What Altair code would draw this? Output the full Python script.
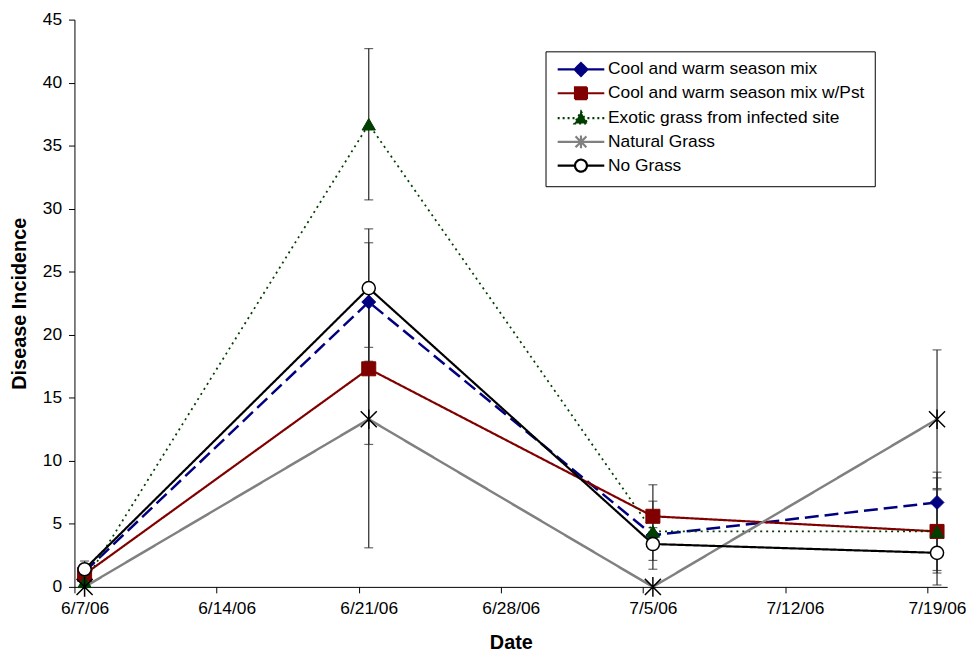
import altair as alt
import pandas as pd

# ---------------- data ----------------
dates = ["2006-06-07", "2006-06-21", "2006-07-05", "2006-07-19"]
series = [
    "Cool and warm season  mix",
    "Cool and warm season mix w/Pst",
    "Exotic grass from infected site",
    "Natural Grass",
    "No Grass",
]
cool = [1.2, 22.6, 4.1, 6.7]
cool_err = [0.5, 4.7, 2.7, 2.4]
pst = [1.0, 17.3, 5.6, 4.4]
pst_err = [0.5, 6.0, 2.5, 4.25]
exotic = [0.4, 36.7, 4.4, 4.4]
exotic_err = [0.3, 6.0, 0.0, 3.3]
natural = [0.0, 13.3, 0.0, 13.3]
natural_err = [0.0, 10.2, 0.0, 5.5]
nograss = [1.4, 23.7, 3.4, 2.7]
nograss_err = [0.65, 4.7, 1.3, 1.4]

y_ticks = [0, 5, 10, 15, 20, 25, 30, 35, 40, 45]
x_tick_days = [(6, 7), (6, 14), (6, 21), (6, 28), (7, 5), (7, 12), (7, 19)]

values = [cool, pst, exotic, natural, nograss]
errors = [cool_err, pst_err, exotic_err, natural_err, nograss_err]

rows = []
for s, vals, errs in zip(series, values, errors):
    for d, v, e in zip(dates, vals, errs):
        rows.append(dict(series=s, date=d, value=v, err=e, lo=max(v - e, 0), hi=v + e))
df = pd.DataFrame(rows)

# ---------------- styles ----------------
FONT = "Liberation Sans"
line_color = ["#000080", "#800000", "#003F00", "#808080", "#000000"]
line_width = [2.5, 2.2, 1.8, 2.5, 2.2]
line_dash = [[14, 6], [1, 0], [2, 4], [1, 0], [1, 0]]
star_path = "M-0.9,-0.9L0.9,0.9M-0.9,0.9L0.9,-0.9M0,-1.1L0,1.1"
pt_shape = ["diamond", "square", "triangle-up", star_path, "circle"]
pt_size = [196, 200, 180, 324, 175]
pt_fill = ["#000080", "#800000", "#003F00", "transparent", "#FFFFFF"]
pt_stroke = ["#000080", "#800000", "#003F00", "#000000", "#000000"]
pt_sw = [1, 1, 1, 1.5, 1.5]

gap = "M-1.2,0L2.2,0M4.8,0L8.2,0"
leg_paths = [
    gap + "M3.5,-1.3L4.8,0L3.5,1.3L2.2,0Z",
    gap + "M2.3,-1.2L4.7,-1.2L4.7,1.2L2.3,1.2Z",
    gap + "M3.5,-1.3L4.8,1.1L2.2,1.1Z",
    "M-1.2,0L8.2,0M2.4,-1.1L4.6,1.1M2.4,1.1L4.6,-1.1M3.5,-1.3L3.5,1.3",
    gap + "M4.7,0A1.2,1.2 0 1 1 2.3,0A1.2,1.2 0 1 1 4.7,0Z",
]
leg_fill = ["#000080", "#800000", "#003F00", "transparent", "#FFFFFF"]
leg_stroke = ["#000080", "#800000", "#003F00", "#808080", "#000000"]
leg_dash = [[1, 0], [1, 0], [2, 3], [1, 0], [1, 0]]

# ---------------- scales / axes ----------------
x_scale = alt.Scale(
    type="utc",
    domain=[
        alt.DateTime(year=2006, month=6, date=6, hours=12, utc=True),
        alt.DateTime(year=2006, month=7, date=19, hours=12, utc=True),
    ],
)
x_axis = alt.Axis(
    values=[alt.DateTime(year=2006, month=m, date=d, utc=True) for m, d in x_tick_days],
    labelExpr="utcFormat(datum.value, '%-m/%-d/%y')",
    title="Date",
    grid=False,
    tickOffset=-10,
    labelOffset=10,
    tickSize=6,
    labelPadding=7,
    titlePadding=16,
    labelFontSize=17.5,
    titleFontSize=20,
    titleFontWeight="bold",
    labelFont=FONT,
    titleFont=FONT,
    domainColor="black",
    tickColor="black",
    labelColor="black",
    titleColor="black",
    labelFlush=False,
    labelOverlap=False,
)
y_scale = alt.Scale(domain=[0, 45], nice=False, zero=True)
y_axis = alt.Axis(
    values=y_ticks,
    title="Disease Incidence",
    grid=False,
    tickSize=6,
    labelPadding=7,
    titlePadding=13,
    labelFontSize=17.5,
    titleFontSize=20,
    titleFontWeight="bold",
    labelFont=FONT,
    titleFont=FONT,
    domainColor="black",
    tickColor="black",
    labelColor="black",
    titleColor="black",
)

X = alt.X("date:T", scale=x_scale, axis=x_axis)
Y = alt.Y("value:Q", scale=y_scale, axis=y_axis)

base = alt.Chart(df)

layers = []
# error bars
for i, s in enumerate(series):
    sub = base.transform_filter(alt.datum.series == s).transform_filter("datum.err > 0")
    layers.append(
        sub.mark_rule(color="#262626", strokeWidth=1.2).encode(
            x=X, y=alt.Y("lo:Q", scale=y_scale, axis=y_axis), y2="hi:Q"
        )
    )
    layers.append(
        sub.mark_tick(orient="horizontal", color="#262626", size=9, thickness=1.2).encode(
            x=X, y=alt.Y("hi:Q", scale=y_scale, axis=y_axis)
        )
    )
    layers.append(
        sub.mark_tick(orient="horizontal", color="#262626", size=9, thickness=1.2).encode(
            x=X, y=alt.Y("lo:Q", scale=y_scale, axis=y_axis)
        )
    )

# lines, then markers
for i, s in enumerate(series):
    sub = base.transform_filter(alt.datum.series == s)
    layers.append(
        sub.mark_line(
            color=line_color[i], strokeWidth=line_width[i], strokeDash=line_dash[i]
        ).encode(x=X, y=Y)
    )
for i, s in enumerate(series):
    sub = base.transform_filter(alt.datum.series == s)
    layers.append(
        sub.mark_point(
            shape=pt_shape[i],
            size=pt_size[i],
            fill=pt_fill[i],
            stroke=pt_stroke[i],
            strokeWidth=pt_sw[i],
            opacity=1,
        ).encode(x=X, y=Y)
    )

# legend-only layer (no marks drawn)
leg_df = pd.DataFrame({"series": series})
legend = alt.Legend(
    orient="none",
    legendX=475,
    legendY=32,
    title=None,
    strokeColor="black",
    fillColor="white",
    padding=9.5,
    labelFont=FONT,
    labelFontSize=17.5,
    labelColor="black",
    labelLimit=500,
    labelOffset=36,
    symbolSize=100,
    symbolStrokeWidth=2.2,
    symbolOpacity=1,
    rowPadding=2,
)
layers.append(
    alt.Chart(leg_df)
    .transform_filter("datum.series == 'none'")
    .mark_point()
    .encode(
        shape=alt.Shape("series:N", scale=alt.Scale(domain=series, range=leg_paths), legend=legend),
        fill=alt.Fill("series:N", scale=alt.Scale(domain=series, range=leg_fill), legend=legend),
        stroke=alt.Stroke("series:N", scale=alt.Scale(domain=series, range=leg_stroke), legend=legend),
        strokeDash=alt.StrokeDash(
            "series:N", scale=alt.Scale(domain=series, range=leg_dash), legend=legend
        ),
    )
)

chart = (
    alt.layer(*layers)
    .properties(
        width=880,
        height=572,
        padding={"left": 67, "top": 9, "right": 22, "bottom": 69},
        autosize=alt.AutoSizeParams(type="none"),
        background="white",
    )
    .configure_view(stroke=None)
)

chart.save("out.html", embed_options={"renderer": "svg", "actions": False})
